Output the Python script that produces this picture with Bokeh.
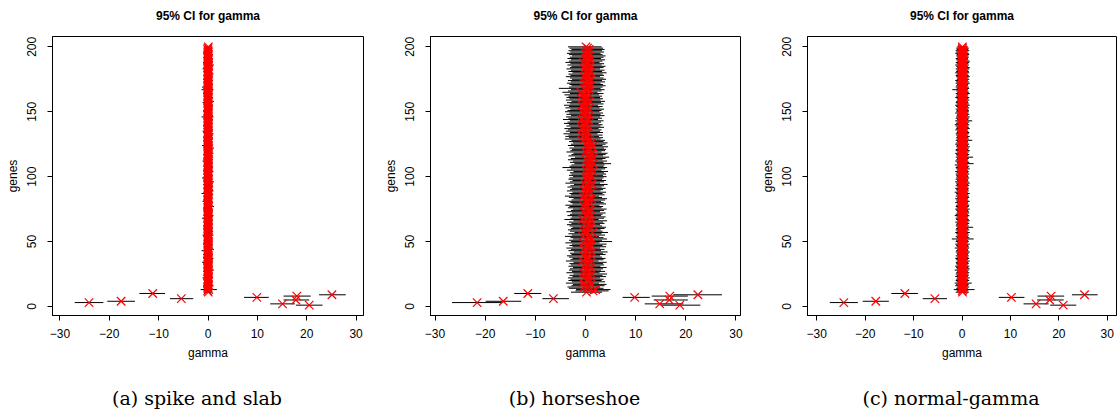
from bokeh.plotting import figure
from bokeh.layouts import row, column
from bokeh.models import Range1d, FixedTicker
from bokeh.core.properties import value
from bokeh.embed import file_html
from bokeh.resources import INLINE

genes = list(range(1, 201))
x_ticks = [-30, -20, -10, 0, 10, 20, 30]
y_ticks = [0, 50, 100, 150, 200]
panel_title = "95% CI for gamma"
captions = ["(a) spike and slab", "(b) horseshoe", "(c) normal-gamma"]

# ---------------- (a) spike and slab ----------------
a_est = [20.5, 15.1, -24.1, -17.6, 17.8, -5.4, 9.9, 18.0, 25.1, -11.2,
         0.05, -0.08, 0.12, 0.02, -0.04, 0.09, 0.01, -0.11, 0.06, 0.03,
         -0.02, 0.10, 0.04, -0.06, 0.00, 0.07, -0.09, 0.03, 0.11, -0.03,
         0.02, -0.05, 0.08, 0.01, -0.10, 0.05, 0.13, -0.01, 0.04, -0.07,
         0.06, 0.00, -0.04, 0.09, 0.02, -0.08, 0.05, 0.10, -0.02, 0.03,
         -0.06, 0.07, 0.01, -0.03, 0.12, 0.04, -0.09, 0.02, 0.06, -0.01,
         0.08, -0.05, 0.03, 0.00, -0.07, 0.10, 0.05, -0.02, 0.01, 0.09,
         -0.04, 0.06, -0.10, 0.02, 0.07, -0.01, 0.11, 0.03, -0.06, 0.04,
         0.01, -0.03, 0.08, 0.05, -0.08, 0.00, 0.06, -0.05, 0.12, 0.02,
         -0.02, 0.09, 0.03, -0.07, 0.04, 0.10, -0.01, 0.06, -0.09, 0.01,
         0.07, -0.04, 0.02, 0.11, -0.06, 0.03, 0.00, 0.08, -0.03, 0.05,
         -0.08, 0.04, 0.10, -0.01, 0.06, -0.05, 0.02, 0.09, 0.01, -0.07,
         0.03, 0.12, -0.02, 0.05, -0.09, 0.07, 0.00, -0.04, 0.08, 0.02,
         -0.06, 0.01, 0.09, -0.03, 0.04, 0.11, -0.07, 0.06, 0.00, -0.01,
         0.05, -0.08, 0.03, 0.07, -0.02, 0.10, -0.05, 0.01, 0.04, 0.08,
         -0.03, 0.06, -0.10, 0.02, 0.09, -0.04, 0.05, 0.12, -0.01, 0.03,
         0.00, -0.06, 0.08, 0.04, -0.07, 0.01, 0.10, -0.02, 0.06, -0.09,
         0.07, 0.02, -0.05, 0.11, 0.03, -0.01, 0.05, -0.08, 0.09, 0.00,
         -0.04, 0.08, 0.01, -0.06, 0.06, 0.13, -0.03, 0.02, -0.07, 0.04,
         0.10, -0.02, 0.05, 0.00, -0.05, 0.07, 0.03, -0.09, 0.01, 0.06]
a_lo = [17.8, 12.6, -27.0, -20.4, 15.3, -7.7, 7.3, 15.3, 22.5, -13.9,
        -0.9, -0.7, -1.5, -0.8, -0.6, -1.0, -0.7, -0.9, -0.8, -0.6,
        -0.7, -1.1, -0.8, -0.6, -0.9, -0.7, -1.0, -0.8, -0.7, -0.6,
        -0.8, -0.7, -0.9, -1.2, -0.6, -0.8, -0.7, -0.9, -0.6, -1.0,
        -0.7, -0.8, -1.3, -0.6, -0.9, -0.7, -0.8, -1.0, -0.6, -0.7,
        -0.9, -0.6, -0.8, -0.7, -1.1, -0.8, -0.6, -0.9, -0.7, -0.8,
        -0.6, -1.0, -0.7, -0.8, -0.9, -0.6, -0.7, -1.2, -0.8, -0.6,
        -0.8, -0.7, -0.9, -0.6, -1.0, -0.7, -0.8, -0.6, -0.9, -0.7,
        -1.1, -0.8, -0.6, -0.7, -0.9, -0.8, -1.3, -0.6, -0.7, -0.8,
        -0.7, -0.9, -0.6, -1.0, -0.8, -0.7, -0.6, -0.9, -1.2, -0.7,
        -0.8, -0.6, -0.7, -0.9, -1.0, -0.6, -0.8, -0.7, -0.9, -0.6,
        -0.7, -1.1, -0.8, -0.6, -0.9, -0.7, -1.0, -0.8, -0.6, -0.7,
        -0.9, -0.6, -0.8, -1.2, -0.7, -0.6, -0.9, -0.8, -0.7, -1.0,
        -0.6, -0.8, -0.7, -0.9, -1.1, -0.8, -0.6, -0.7, -1.0, -0.8,
        -0.7, -0.9, -0.6, -0.8, -0.7, -1.3, -0.9, -0.6, -0.8, -0.7,
        -1.0, -0.7, -0.8, -0.6, -0.9, -0.7, -1.1, -0.8, -0.6, -0.9,
        -0.8, -0.6, -0.7, -1.0, -0.8, -0.9, -1.3, -0.7, -1.2, -0.8,
        -0.6, -0.9, -0.8, -0.7, -1.0, -0.6, -0.8, -0.9, -0.7, -0.6,
        -0.9, -0.7, -1.1, -0.8, -0.6, -0.7, -0.9, -1.0, -0.8, -0.7,
        -0.7, -0.8, -0.6, -0.9, -0.7, -1.0, -0.8, -0.6, -0.9, -0.7]
a_hi = [23.2, 17.6, -21.2, -14.8, 20.5, -3.0, 12.3, 20.8, 27.9, -8.7,
        0.9, 0.8, 1.8, 0.7, 0.6, 1.1, 0.8, 0.6, 0.9, 0.7,
        0.6, 1.0, 0.8, 0.7, 0.9, 0.6, 0.7, 1.2, 0.8, 0.6,
        0.9, 0.7, 0.8, 0.6, 1.0, 0.8, 1.1, 0.7, 0.6, 0.9,
        0.8, 0.6, 0.7, 1.2, 0.9, 0.6, 0.8, 1.0, 0.7, 0.6,
        0.7, 0.9, 0.6, 0.8, 1.1, 0.7, 0.6, 0.9, 0.8, 1.0,
        0.9, 0.6, 0.8, 0.7, 0.6, 1.0, 0.9, 0.7, 0.8, 1.1,
        0.6, 0.8, 0.7, 1.0, 0.9, 0.6, 1.2, 0.8, 0.7, 0.6,
        0.8, 0.7, 0.9, 0.6, 0.7, 1.0, 0.8, 0.6, 1.1, 0.9,
        0.7, 1.0, 0.8, 0.6, 0.9, 1.2, 0.7, 0.8, 0.6, 0.7,
        0.9, 0.6, 0.7, 1.1, 0.8, 0.6, 0.9, 1.0, 0.7, 0.8,
        0.6, 0.8, 1.0, 0.7, 0.9, 0.6, 0.8, 1.1, 0.7, 0.6,
        0.8, 1.2, 0.7, 0.9, 0.6, 0.8, 0.7, 0.6, 1.0, 0.9,
        0.7, 0.6, 1.1, 0.8, 0.9, 1.0, 0.6, 0.8, 0.7, 0.6,
        0.9, 0.7, 0.8, 1.0, 0.6, 1.1, 0.7, 0.6, 0.8, 0.9,
        0.6, 0.8, 0.7, 0.9, 1.0, 0.6, 0.8, 1.2, 0.7, 0.8,
        0.7, 0.6, 0.9, 0.8, 0.7, 0.6, 1.1, 0.8, 0.9, 0.6,
        0.9, 0.7, 0.6, 1.0, 0.8, 0.7, 0.9, 0.6, 1.1, 0.7,
        0.6, 0.9, 0.8, 0.7, 1.0, 1.2, 0.6, 0.8, 0.7, 0.9,
        1.0, 0.7, 0.9, 0.6, 0.7, 0.8, 0.9, 0.6, 0.8, 0.7]

# ---------------- (b) horseshoe ----------------
b_est = [18.8, 14.8, -21.6, -16.4, 16.7, -6.4, 9.8, 16.8, 22.4, -11.5,
         0.2, 1.5, 2.0, 0.4, -0.3, 0.6, 1.1, -0.5, 0.8, 0.1,
         0.5, -0.2, 0.9, 0.3, 1.2, -0.4, 0.7, 0.0, 0.4, 1.0,
         -0.1, 0.6, 0.3, 1.1, -0.6, 0.5, 0.8, 0.2, -0.3, 0.9,
         0.4, 1.3, 0.0, 0.6, -0.2, 0.9, 0.3, 1.0, -0.4, 0.7,
         0.2, 1.1, 0.5, -0.5, 0.8, 0.1, 1.4, 0.3, -0.1, 0.6,
         1.0, 0.2, -0.3, 0.7, 0.4, 1.2, -0.6, 0.5, 0.9, 0.0,
         0.3, 0.8, -0.2, 0.6, 1.1, 0.1, 0.4, -0.4, 0.9, 0.5,
         0.0, 0.7, 1.2, 0.2, -0.5, 0.6, 0.3, 1.0, -0.1, 0.4,
         0.8, 0.1, 0.5, 1.3, -0.2, 0.6, 0.9, 0.2, 0.4, 1.1,
         0.3, 0.9, 0.6, 1.4, 0.1, 0.8, 1.2, 0.4, 0.7, 1.5,
         0.5, 1.1, 0.2, 0.9, 1.6, 0.4, 0.8, 1.3, 0.0, 0.7,
         1.0, 0.6, 1.4, 0.3, 0.9, 1.2, 0.5, 0.8, -0.2, 0.4,
         -0.5, 0.2, -0.9, 0.4, -0.3, 0.1, -0.7, 0.6, -0.1, 0.3,
         -0.6, 0.0, 0.5, -0.8, 0.2, -0.3, 0.7, -0.1, 0.4, -0.5,
         0.1, 0.6, -0.4, 0.3, -0.7, 0.5, 0.0, 0.8, -0.2, 0.4,
         -0.3, 0.2, -0.6, 0.5, -0.9, 0.1, 0.7, -0.2, 0.3, 0.9,
         0.4, -0.1, 0.8, 0.2, 1.0, 0.5, -0.3, 0.6, 0.3, 1.1,
         0.2, 0.7, -0.2, 0.5, 0.9, 0.1, 0.6, -0.4, 0.3, 0.8,
         0.0, 0.5, 0.9, 0.3, -0.1, 0.6, 0.2, 0.7, 0.4, 0.1]
b_lo = [15.0, 11.8, -26.6, -19.9, 13.6, -8.6, 7.4, 13.2, 17.5, -14.2,
        -2.9, -2.0, -1.9, -3.3, -3.6, -2.8, -2.5, -3.9, -2.7, -3.4,
        -3.0, -3.5, -2.6, -3.2, -2.4, -3.8, -2.7, -3.3, -3.1, -2.5,
        -3.4, -2.9, -3.2, -2.4, -3.9, -3.0, -2.6, -3.3, -3.7, -2.8,
        -3.1, -2.3, -3.4, -2.9, -3.8, -2.6, -3.2, -2.7, -4.0, -2.9,
        -3.3, -2.5, -3.0, -4.1, -2.7, -3.4, -2.2, -3.1, -3.5, -2.9,
        -2.6, -3.2, -3.7, -2.8, -3.3, -2.4, -4.2, -3.0, -2.7, -3.6,
        -3.1, -2.7, -3.8, -2.9, -2.5, -3.5, -3.2, -4.0, -2.6, -3.0,
        -3.4, -2.8, -2.4, -3.3, -4.1, -2.9, -3.2, -2.6, -3.7, -3.1,
        -2.7, -3.6, -3.0, -2.3, -4.0, -3.1, -2.6, -3.4, -3.2, -2.5,
        -3.3, -2.8, -3.1, -2.4, -3.7, -2.9, -4.6, -3.2, -2.8, -2.2,
        -3.1, -2.5, -3.5, -2.9, -2.1, -3.4, -2.8, -2.4, -3.8, -3.0,
        -2.7, -3.2, -2.3, -3.5, -2.9, -2.5, -3.3, -2.8, -4.1, -3.3,
        -4.0, -3.4, -4.4, -3.1, -3.9, -3.5, -4.2, -3.0, -3.8, -3.3,
        -4.3, -3.6, -3.1, -4.5, -3.4, -3.9, -2.9, -3.8, -3.2, -4.1,
        -3.6, -3.0, -4.0, -3.3, -4.3, -3.1, -3.7, -2.8, -3.9, -3.2,
        -3.8, -3.4, -4.2, -3.1, -4.6, -3.5, -2.9, -5.3, -3.3, -2.8,
        -3.2, -3.7, -2.9, -3.5, -2.7, -3.1, -3.9, -3.0, -3.4, -2.6,
        -3.4, -2.9, -3.8, -3.1, -2.8, -3.6, -3.0, -4.0, -3.3, -2.9,
        -3.6, -3.1, -2.7, -3.3, -3.7, -3.0, -3.4, -2.8, -3.2, -3.5]
b_hi = [22.9, 19.5, -16.6, -12.8, 20.4, -3.3, 12.8, 20.4, 27.2, -8.8,
        3.3, 4.6, 5.0, 3.6, 2.9, 3.8, 4.2, 2.7, 3.9, 3.2,
        3.6, 2.9, 4.1, 3.4, 4.3, 2.8, 3.9, 3.1, 3.5, 4.2,
        3.0, 3.7, 3.5, 4.2, 2.6, 3.6, 4.0, 3.3, 2.9, 4.0,
        3.5, 4.4, 3.1, 3.8, 2.9, 4.1, 3.4, 4.2, 2.8, 5.3,
        3.3, 4.3, 3.6, 2.7, 3.9, 3.2, 4.5, 3.4, 3.0, 3.8,
        4.1, 3.3, 2.9, 3.8, 3.5, 4.3, 2.6, 3.7, 4.0, 3.1,
        3.4, 4.0, 2.9, 3.7, 4.2, 3.2, 3.5, 2.8, 4.1, 3.6,
        3.1, 3.9, 4.3, 3.3, 2.7, 3.8, 3.4, 4.1, 3.0, 3.5,
        4.0, 3.2, 3.7, 4.4, 2.9, 3.7, 4.1, 3.3, 3.6, 4.2,
        3.5, 4.1, 3.7, 4.5, 3.2, 3.9, 4.3, 3.6, 3.8, 5.1,
        3.6, 4.3, 3.4, 4.0, 4.7, 3.5, 4.0, 4.4, 3.2, 3.9,
        4.1, 3.7, 4.5, 3.4, 4.0, 4.4, 3.6, 3.9, 3.0, 3.5,
        2.7, 3.4, 2.4, 3.5, 2.9, 3.2, 2.6, 3.7, 3.0, 3.4,
        2.6, 3.1, 3.6, 2.5, 3.3, 2.9, 3.8, 3.0, 3.5, 2.8,
        3.2, 3.7, 2.8, 3.4, 2.5, 3.6, 3.1, 3.9, 3.0, 3.5,
        2.9, 3.3, 2.7, 3.6, 2.4, 3.2, 3.8, 3.0, 3.4, 4.0,
        3.5, 3.0, 3.9, 3.3, 4.1, 3.6, 2.9, 3.7, 3.4, 4.2,
        3.3, 3.8, 2.9, 3.6, 4.0, 3.2, 3.7, 2.8, 3.4, 3.9,
        3.1, 3.6, 4.0, 3.4, 3.0, 3.7, 3.3, 3.8, 3.5, 3.2]

# ---------------- (c) normal-gamma ----------------
c_est = [20.9, 15.3, -24.4, -17.8, 18.1, -5.6, 10.2, 18.4, 25.3, -11.8,
         0.12, 0.05, 0.20, -0.03, 0.08, 0.15, 0.02, 0.10, -0.06, 0.07,
         0.18, 0.01, 0.09, 0.14, -0.04, 0.06, 0.11, 0.03, 0.16, 0.00,
         0.07, 0.13, -0.02, 0.10, 0.05, 0.19, 0.04, -0.05, 0.12, 0.08,
         0.02, 0.15, 0.09, -0.01, 0.11, 0.06, 0.17, 0.03, 0.08, 0.13,
         -0.03, 0.10, 0.05, 0.14, 0.01, 0.09, 0.20, 0.06, -0.04, 0.11,
         0.08, 0.03, 0.16, 0.07, 0.12, -0.02, 0.05, 0.10, 0.15, 0.01,
         0.11, 0.18, 0.04, 0.09, -0.05, 0.13, 0.07, 0.02, 0.14, 0.06,
         0.00, 0.12, 0.08, 0.17, 0.03, 0.10, -0.01, 0.15, 0.05, 0.09,
         0.14, 0.04, 0.11, 0.06, 0.19, 0.02, 0.08, -0.03, 0.13, 0.07,
         0.05, 0.16, 0.01, 0.10, 0.08, 0.12, 0.03, 0.18, 0.06, -0.02,
         0.09, 0.13, 0.07, 0.02, 0.15, 0.04, 0.11, 0.08, 0.00, 0.14,
         0.06, 0.10, 0.17, 0.03, 0.09, -0.04, 0.12, 0.05, 0.16, 0.08,
         0.13, 0.01, 0.07, 0.11, 0.04, 0.15, 0.09, 0.02, 0.10, 0.18,
         0.03, 0.08, 0.14, -0.01, 0.12, 0.06, 0.20, 0.05, 0.09, 0.11,
         0.07, 0.15, 0.02, 0.10, 0.04, 0.13, 0.08, 0.17, 0.01, 0.06,
         0.12, 0.05, 0.09, 0.16, -0.03, 0.10, 0.07, 0.14, 0.03, 0.11,
         0.08, 0.18, 0.04, 0.12, 0.06, 0.01, 0.15, 0.09, 0.13, 0.05,
         0.10, 0.02, 0.14, 0.07, 0.11, 0.16, 0.04, 0.08, 0.12, 0.00,
         0.15, 0.06, 0.10, 0.03, 0.13, 0.09, 0.17, 0.05, 0.11, 0.08]
c_lo = [18.2, 12.7, -27.3, -20.5, 15.5, -8.1, 7.6, 15.6, 22.7, -14.6,
        -1.3, -1.1, -1.7, -1.2, -1.0, -1.4, -1.2, -1.5, -1.1, -1.3,
        -1.2, -1.0, -1.4, -1.1, -1.3, -1.2, -1.0, -1.5, -1.1, -1.2,
        -1.4, -1.1, -1.2, -1.3, -1.0, -1.2, -1.4, -1.1, -1.3, -1.0,
        -1.1, -1.3, -1.2, -1.0, -1.5, -1.1, -1.2, -1.4, -1.0, -1.3,
        -1.2, -2.1, -1.1, -1.3, -1.0, -1.2, -1.4, -1.1, -1.3, -1.2,
        -1.0, -1.3, -1.2, -1.1, -1.4, -1.0, -1.2, -1.3, -1.1, -1.5,
        -1.3, -1.1, -1.0, -1.2, -1.4, -1.1, -1.3, -1.2, -1.0, -1.4,
        -1.1, -1.2, -1.4, -1.0, -1.3, -1.1, -1.2, -1.5, -1.1, -1.2,
        -1.4, -1.0, -1.3, -1.1, -1.2, -1.4, -1.0, -1.3, -1.2, -1.1,
        -1.2, -1.3, -1.1, -1.4, -1.0, -1.2, -1.3, -1.1, -1.5, -1.0,
        -1.1, -1.4, -1.2, -1.0, -1.3, -1.1, -1.2, -1.4, -1.0, -1.3,
        -1.3, -1.0, -1.2, -1.1, -1.4, -1.2, -1.0, -1.3, -1.1, -1.2,
        -1.0, -1.2, -1.3, -1.1, -1.0, -1.4, -1.2, -1.1, -1.3, -1.5,
        -1.2, -1.1, -1.4, -1.0, -1.3, -1.2, -1.1, -1.0, -1.4, -1.2,
        -1.1, -1.3, -1.0, -1.2, -1.4, -1.1, -1.3, -1.2, -1.0, -1.1,
        -1.4, -1.2, -1.1, -1.3, -1.0, -1.2, -2.0, -1.1, -1.3, -1.2,
        -1.0, -1.3, -1.2, -1.4, -1.1, -1.0, -1.2, -1.3, -1.1, -1.4,
        -1.2, -1.1, -1.3, -1.0, -1.2, -1.4, -1.1, -1.3, -1.0, -1.2,
        -1.3, -1.0, -1.2, -1.1, -1.4, -1.2, -1.3, -1.1, -1.2, -1.0]
c_hi = [23.6, 17.9, -21.5, -15.1, 21.0, -3.1, 12.9, 21.1, 28.0, -9.1,
        1.4, 1.3, 2.6, 1.2, 1.5, 1.3, 1.4, 2.0, 1.2, 1.5,
        1.3, 1.6, 1.2, 1.4, 1.3, 1.5, 1.2, 1.4, 1.6, 1.3,
        1.5, 1.2, 1.4, 1.3, 1.6, 1.2, 1.5, 1.3, 1.4, 1.2,
        1.4, 1.6, 1.3, 1.2, 1.5, 1.4, 1.3, 1.6, 1.2, 1.4,
        1.3, 2.4, 1.5, 1.2, 1.4, 1.3, 1.6, 1.2, 1.5, 1.3,
        2.3, 1.4, 1.2, 1.5, 1.3, 1.6, 1.4, 1.2, 1.3, 1.5,
        1.2, 1.5, 1.4, 1.3, 1.6, 1.2, 1.4, 1.5, 1.3, 1.2,
        1.6, 1.3, 1.2, 1.5, 1.4, 1.3, 1.6, 1.2, 1.4, 1.3,
        1.4, 1.2, 1.5, 1.3, 1.6, 1.4, 1.2, 1.3, 1.5, 1.3,
        1.2, 1.5, 1.3, 1.4, 1.2, 1.6, 1.3, 1.5, 1.2, 2.4,
        1.5, 1.3, 1.2, 1.4, 2.3, 1.3, 1.5, 1.2, 1.4, 1.6,
        1.3, 1.4, 1.6, 1.2, 1.5, 1.3, 1.2, 2.1, 1.4, 1.3,
        1.6, 1.2, 1.4, 1.5, 1.3, 1.2, 1.6, 1.4, 1.3, 1.5,
        1.2, 1.5, 2.1, 1.3, 1.4, 1.6, 1.2, 1.5, 1.3, 1.4,
        1.4, 1.3, 1.5, 1.2, 1.6, 1.4, 1.3, 1.2, 1.5, 1.3,
        1.5, 1.2, 1.3, 1.6, 1.4, 1.3, 1.2, 1.5, 1.4, 1.2,
        1.3, 1.6, 1.4, 1.2, 1.5, 1.3, 1.6, 1.4, 1.2, 1.5,
        1.4, 1.3, 1.5, 1.6, 1.2, 1.4, 1.3, 1.5, 1.6, 1.3,
        1.2, 1.4, 1.3, 1.5, 1.4, 1.2, 1.5, 1.3, 1.4, 1.2]

SANS = "Liberation Sans"
TITLE_H = 30      # strip holding the panel title
MAIN_H = 340      # strip holding the plot box and axes
CAP_H = 42        # strip holding the caption
TOP = 6
BOTTOM = 55


def text_strip(width, height, mb_left, mb_right, label, dx_px, y_px, font, size, style):
    # the strip's frame lines up with the plot frame below/above it
    frame_w = width - mb_left - mb_right
    s = figure(width=width, height=height, x_range=Range1d(0, frame_w),
               y_range=Range1d(0, height), output_backend="svg",
               toolbar_location=None, x_axis_location=None, y_axis_location=None,
               min_border_left=mb_left, min_border_right=mb_right, min_border_top=0,
               min_border_bottom=0)
    s.grid.visible = False
    s.outline_line_color = None
    s.background_fill_color = "white"
    s.border_fill_color = "white"
    s.text(x=[frame_w / 2 + dx_px], y=[y_px], text=[label], text_align="center",
           text_baseline="middle", text_font=value(font),
           text_font_size=value(size), text_font_style=style, text_color="black")
    return s


def make_panel(est, lo, hi, xlim, width, mb_left, mb_right):
    p = figure(width=width, height=MAIN_H,
               x_range=Range1d(-xlim, xlim), y_range=Range1d(-6.96, 207.96),
               output_backend="svg", toolbar_location=None,
               min_border_left=mb_left, min_border_right=mb_right,
               min_border_top=TOP, min_border_bottom=BOTTOM)

    p.segment(x0=lo, y0=genes, x1=hi, y1=genes, line_color="black", line_width=1)
    p.scatter(x=est, y=genes, marker="x", size=12, line_color="red", line_width=1.2)

    p.xgrid.visible = False
    p.ygrid.visible = False
    p.outline_line_color = "black"
    p.outline_line_width = 1
    p.background_fill_color = "white"
    p.border_fill_color = "white"

    for ax in (p.xaxis[0], p.yaxis[0]):
        ax.major_tick_in = 0
        ax.major_tick_out = 5
        ax.minor_tick_line_color = None
        ax.axis_line_color = "black"
        ax.major_tick_line_color = "black"
        ax.major_label_text_font = SANS
        ax.major_label_text_font_size = "12px"
        ax.major_label_text_color = "black"
        ax.axis_label_text_font = SANS
        ax.axis_label_text_font_size = "12px"
        ax.axis_label_text_font_style = "normal"
        ax.axis_label_text_color = "black"

    p.xaxis.ticker = FixedTicker(ticks=x_ticks)
    p.yaxis.ticker = FixedTicker(ticks=y_ticks)
    p.xaxis.axis_label = "gamma"
    p.yaxis.axis_label = "genes"
    p.yaxis.major_label_orientation = "vertical"
    p.xaxis.major_label_standoff = 8
    p.xaxis.axis_label_standoff = 5
    p.yaxis.major_label_standoff = 11
    p.yaxis.axis_label_standoff = 5
    return p


def make_column(est, lo, hi, xlim, caption, width, mb_left, mb_right):
    t = text_strip(width, TITLE_H, mb_left, mb_right, panel_title, 0, 15,
                   SANS, "12px", "bold")
    p = make_panel(est, lo, hi, xlim, width, mb_left, mb_right)
    c = text_strip(width, CAP_H, mb_left, mb_right, caption, -11, 15,
                   "DejaVu Serif", "19px", "normal")
    return column(t, p, c, spacing=0)


col_a = make_column(a_est, a_lo, a_hi, 31.5, captions[0], 377, 52, 14)
col_b = make_column(b_est, b_lo, b_hi, 30.9, captions[1], 377, 53, 14)
col_c = make_column(c_est, c_lo, c_hi, 31.9, captions[2], 363, 53, 1)

layout = row(col_a, col_b, col_c, spacing=0)
open("out.html", "w").write(file_html(layout, INLINE))
